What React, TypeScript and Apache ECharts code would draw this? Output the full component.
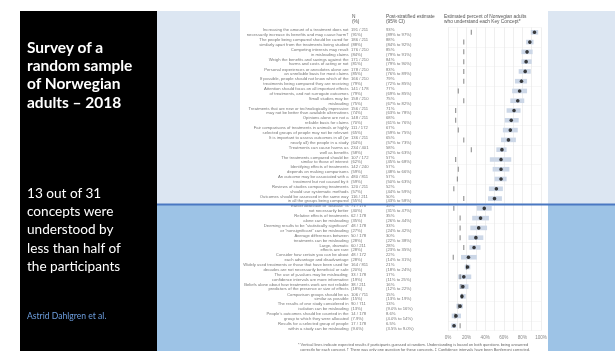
import React, { useEffect, useRef } from "react";
import * as echarts from "echarts";

const concepts: string[][] = [
  ["Increasing the amount of a treatment does not", "necessarily increase its benefits and may cause harm†"],
  ["The people being compared should be cared for", "similarly apart from the treatments being studied"],
  ["Competing interests may result", "in misleading claims"],
  ["Weigh the benefits and savings against the", "harms and costs of acting or not"],
  ["Personal experiences or anecdotes alone are", "an unreliable basis for most claims"],
  ["If possible, people should not know which of the", "treatments being compared they are receiving"],
  ["Attention should focus on all important effects", "of treatments, and not surrogate outcomes"],
  ["Small studies may be", "misleading"],
  ["Treatments that are new or technologically impressive", "may not be better than available alternatives"],
  ["Opinions alone are not a", "reliable basis for claims"],
  ["Fair comparisons of treatments in animals or highly", "selected groups of people may not be relevant"],
  ["It is important to assess outcomes in all (or", "nearly all) the people in a study"],
  ["Treatments can cause harms as", "well as benefits"],
  ["The treatments compared should be", "similar to those of interest"],
  ["Identifying effects of treatments", "depends on making comparisons"],
  ["An outcome may be associated with a", "treatment but not caused by it"],
  ["Reviews of studies comparing treatments", "should use systematic methods"],
  ["Outcomes should be assessed in the same way", "in all the groups being compared"],
  ["Earlier detection of “disease” is", "not necessarily better"],
  ["Relative effects of treatments", "alone can be misleading"],
  ["Deeming results to be “statistically significant”", "or “nonsignificant” can be misleading"],
  ["Average differences between", "treatments can be misleading"],
  ["Large, dramatic", "effects are rare"],
  ["Consider how certain you can be about", "each advantage and disadvantage"],
  ["Widely used treatments or those that have been used for", "decades are not necessarily beneficial or safe"],
  ["The use of p-values may be misleading;", "confidence intervals are more informative"],
  ["Beliefs alone about how treatments work are not reliable", "predictors of the presence or size of effects"],
  ["Comparison groups should be as", "similar as possible"],
  ["The results of one study considered in", "isolation can be misleading"],
  ["People’s outcomes should be counted in the", "group to which they were allocated"],
  ["Results for a selected group of people", "within a study can be misleading"],
];

const nCounts: string[] = [
  "191 / 211", "186 / 211", "176 / 210", "171 / 210", "178 / 210", "166 / 210", "141 / 178", "158 / 210",
  "156 / 211", "148 / 211", "111 / 172", "136 / 211", "234 / 401", "107 / 172", "142 / 240", "480 / 811",
  "120 / 211", "116 / 211", "71 / 178", "62 / 178", "48 / 178", "50 / 178", "60 / 211", "48 / 172",
  "164 / 811", "33 / 178", "38 / 211", "106 / 711", "90 / 711", "14 / 178", "17 / 178",
];
const nPercents: string[] = [
  "(91%)", "(88%)", "(84%)", "(81%)", "(85%)", "(79%)", "(79%)", "(75%)",
  "(74%)", "(70%)", "(65%)", "(64%)", "(58%)", "(62%)", "(59%)", "(59%)",
  "(57%)", "(55%)", "(40%)", "(35%)", "(27%)", "(28%)", "(28%)", "(28%)",
  "(20%)", "(19%)", "(18%)", "(15%)", "(13%)", "(7.9%)", "(9.6%)",
];

const estimates: number[] = [93, 88, 85, 84, 83, 79, 77, 75, 71, 68, 67, 65, 58, 57, 57, 57, 52, 50, 39, 35, 33, 30, 28, 22, 21, 17, 16, 15, 13, 8.6, 6.5];
const ciLow: number[] = [89, 84, 79, 79, 76, 72, 69, 67, 63, 61, 59, 57, 52, 45, 48, 50, 44, 43, 31, 26, 24, 22, 23, 14, 18, 11, 12, 13, 9, 4, 3.5];
const ciHigh: number[] = [97, 92, 91, 90, 89, 85, 85, 82, 78, 76, 75, 73, 63, 68, 66, 63, 59, 58, 47, 44, 42, 38, 35, 31, 24, 25, 22, 19, 16, 14, 9];
const guessExpected: number[] = [25, 17, 17, 17, 17, 17, 11, 17, 8.3, 8.3, 11, 17, 25, 8.3, 11, 10, 6.3, 17, 6.3, 13, 13, 13, 17, 5.6, 20, 13, 14, 15, 11, 7.5, 13];

const xTickStep = 10;
const xLabelStep = 20;

const FONT = "Liberation Sans";
const fmt = (v: number) => (v < 10 ? v.toFixed(1) : String(Math.round(v))) + "%";

export default function App() {
  const ref = useRef<HTMLDivElement>(null);
  useEffect(() => {
    const chart = echarts.init(ref.current!, null, { renderer: "svg" });
    const idx = concepts.map((_, i) => String(i));
    const labelText = concepts.map((c) => c.join("\n"));
    const nText = nCounts.map((n, i) => n + "\n" + nPercents[i]);
    const estText = estimates.map((e, i) => `${fmt(e)}\n(${fmt(ciLow[i])} to ${fmt(ciHigh[i])})`);

    const tableAxis = (data: string[], offset: number, align: string) => ({
      type: "category",
      data,
      inverse: true,
      position: "left",
      offset,
      axisLine: { show: false },
      axisTick: { show: false },
      splitLine: { show: false },
      axisLabel: {
        interval: 0,
        align,
        margin: 0,
        fontSize: 4.2,
        lineHeight: 4.7,
        color: "#777",
        fontFamily: FONT,
      },
    });

    chart.setOption({
      animation: false,
      grid: { left: 448, width: 93, top: 27.4, height: 303.2, containLabel: false },
      xAxis: {
        type: "value",
        min: 0,
        max: 100,
        interval: xTickStep,
        axisLine: { show: false },
        axisTick: { show: false },
        axisLabel: {
          formatter: (v: number) => (v % xLabelStep === 0 ? v + "%" : ""),
          fontSize: 4.6,
          color: "#888",
          margin: 4,
          fontFamily: FONT,
        },
        splitLine: { show: true, lineStyle: { color: "#e4e4e4", width: 0.6 } },
      },
      yAxis: [
        {
          type: "category",
          data: idx,
          inverse: true,
          axisLine: { show: false },
          axisTick: { show: false },
          axisLabel: { show: false },
          splitLine: { show: true, lineStyle: { color: "#eeeeee", width: 0.5 } },
        },
        tableAxis(labelText, 99.5, "right"),
        tableAxis(nText, 97, "left"),
        tableAxis(estText, 62, "left"),
      ],
      series: [
        {
          type: "custom",
          yAxisIndex: 0,
          data: ciLow.map((lo, i) => [lo, ciHigh[i], i]),
          encode: { x: [0, 1], y: 2 },
          renderItem: (params: any, api: any) => {
            const s = api.coord([api.value(0), api.value(2)]);
            const e = api.coord([api.value(1), api.value(2)]);
            return {
              type: "rect",
              shape: { x: s[0], y: s[1] - 2.3, width: e[0] - s[0], height: 4.6 },
              style: { fill: "#ccd7e7" },
            };
          },
        },
        {
          type: "scatter",
          yAxisIndex: 0,
          data: guessExpected.map((g, i) => [g, i]),
          symbol: "rect",
          symbolSize: [0.9, 5],
          itemStyle: { color: "#555" },
        },
        {
          type: "scatter",
          yAxisIndex: 0,
          data: estimates.map((e, i) => [e, i]),
          symbol: "circle",
          symbolSize: 3.6,
          itemStyle: { color: "#111" },
        },
      ],
      graphic: [
        { type: "rect", z: -10, shape: { x: 20, y: 11, width: 137, height: 340 }, style: { fill: "#000" } },
        { type: "rect", z: -10, shape: { x: 157, y: 11, width: 458, height: 193 }, style: { fill: "#dce6f2" } },
        { type: "rect", z: -10, shape: { x: 157, y: 204, width: 458, height: 147 }, style: { fill: "#9dc3e6" } },
        { type: "rect", z: -9, shape: { x: 240, y: 11, width: 308, height: 340 }, style: { fill: "#ffffff" } },
        {
          type: "text", z: 20, x: 27, y: 37.5,
          style: {
            text: "Survey of a\nrandom sample\nof Norwegian\nadults – 2018",
            fill: "#fff", fontFamily: "Lato", fontWeight: "bold", fontSize: 15.5, lineHeight: 18.3,
          },
        },
        {
          type: "text", z: 20, x: 27, y: 183.6,
          style: {
            text: "13 out of 31\nconcepts were\nunderstood by\nless than half of\nthe participants",
            fill: "#fff", fontFamily: "Lato", fontSize: 13.6, lineHeight: 18.3,
          },
        },
        {
          type: "text", z: 20, x: 27, y: 316, style: {
            text: "Astrid Dahlgren et al.", fill: "#6d9ede", fontFamily: "Lato", fontSize: 8.6, verticalAlign: "middle",
          },
        },
        {
          type: "text", z: 20, x: 352, y: 13.5,
          style: { text: "N\n(%)", fill: "#555", fontFamily: FONT, fontSize: 4.8, lineHeight: 5.2 },
        },
        {
          type: "text", z: 20, x: 386, y: 13.5,
          style: { text: "Post-stratified estimate\n(95% CI)", fill: "#555", fontFamily: FONT, fontSize: 4.8, lineHeight: 5.2 },
        },
        {
          type: "text", z: 20, x: 444, y: 13.5,
          style: {
            text: "Estimated percent of Norwegian adults\nwho understand each Key Concept*",
            fill: "#555", fontFamily: FONT, fontSize: 4.8, lineHeight: 5.2,
          },
        },
        {
          type: "text", z: 20, x: 298, y: 342.5,
          style: {
            text:
              "* Vertical lines indicate expected results if participants guessed at random. Understanding is based on both questions being answered\n" +
              "  correctly for each concept. † There was only one question for these concepts. ‡ Confidence intervals have been Bonferroni corrected.",
            fill: "#666", fontFamily: FONT, fontSize: 3.9, lineHeight: 4.6,
          },
        },
        {
          type: "line", z: 50,
          shape: { x1: 157, y1: 204.5, x2: 615, y2: 204.5 },
          style: { stroke: "#4a78c2", lineWidth: 1.8 },
        },
      ],
    });
    return () => chart.dispose();
  }, []);
  return <div ref={ref} style={{ position: "fixed", left: 0, top: 0, width: 615, height: 351 }} />;
}
